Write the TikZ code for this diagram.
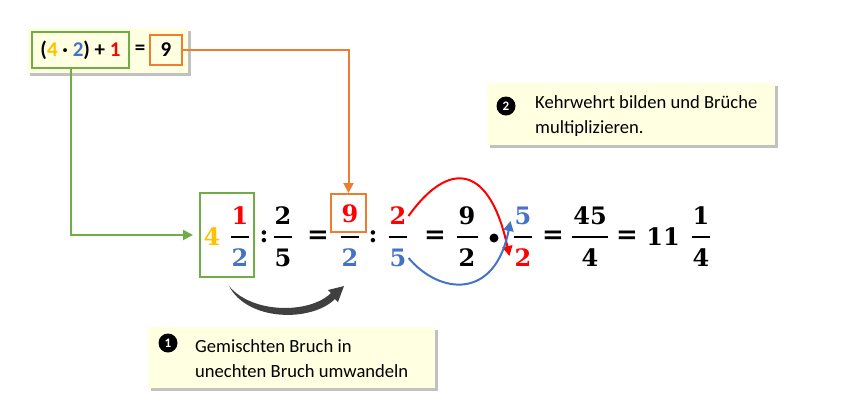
\documentclass[tikz,border=0pt]{standalone}
\usepackage{fontspec}
\usetikzlibrary{shadows,arrows.meta}
\newfontfamily\calfont{Carlito}
\newfontfamily\eqfont{DejaVu Serif}
\definecolor{cy}{HTML}{FFC000}
\definecolor{cb}{HTML}{4472C4}
\definecolor{cr}{HTML}{FF0000}
\definecolor{cg}{HTML}{70AD47}
\definecolor{co}{HTML}{ED7D31}
\definecolor{bgy}{HTML}{FFFFE1}
\definecolor{dg}{HTML}{404040}
\tikzset{
  dig/.style={font=\eqfont\bfseries\fontsize{24}{28}\selectfont, inner sep=0pt},
  opr/.style={font=\eqfont\bfseries\fontsize{26}{30}\selectfont, inner sep=0pt},
  fbar/.style={line width=1.5pt, black},
  notebox/.style={fill=bgy, draw=none, inner sep=0pt,
     drop shadow={shadow xshift=2.5pt, shadow yshift=-3pt, opacity=0.35, fill=black!70}},
  bul/.style={circle, fill=black, inner sep=0pt, minimum size=19pt, text=white,
     font=\calfont\bfseries\fontsize{13}{14}\selectfont},
  notetxt/.style={font=\calfont\fontsize{18.6}{25}\selectfont, align=left, inner sep=0pt, anchor=west},
  conn/.style={line width=2pt, -{Triangle[length=10pt,width=10pt]}},
  topfont/.style={font=\calfont\bfseries\fontsize{21}{24}\selectfont},
}
\begin{document}
\begin{tikzpicture}[x=1pt,y=-1pt]
\useasboundingbox (0,0) rectangle (862,416);
% top box
\node[notebox, minimum width=161pt, minimum height=45pt] (topbox) at (107.5,50.5) {};
\node[draw=cg, line width=2pt, minimum width=97pt, minimum height=36pt, inner sep=0pt, topfont] (grp) at (80.5,50)
  {(\textcolor{cy}{4} · \textcolor{cb}{2}) + \textcolor{cr}{1}};
\node[topfont, inner sep=0pt] (eqt) at (140,50) {=};
\node[draw=co, line width=2pt, minimum width=32pt, minimum height=30pt, inner sep=0pt, topfont] (n9) at (166,50) {9};
% note 2
\node[notebox, minimum width=288pt, minimum height=62pt] (box2) at (631,114) {};
\node[bul] (b2) at (506,106) {2};
\node[notetxt] (t2) at (535,116) {Kehrwehrt bilden und Brüche\\multiplizieren.};
% note 1
\node[notebox, minimum width=287pt, minimum height=61pt] (box1) at (291.5,357.5) {};
\node[bul] (b1) at (168,343) {1};
\node[notetxt] (t1) at (195,359) {Gemischten Bruch in\\unechten Bruch umwandeln};
% boxes in equation
\node[draw=cg, line width=2pt, minimum width=54pt, minimum height=84pt, inner sep=0pt] (gb) at (227,235) {};
\node[draw=co, line width=2pt, minimum width=35pt, minimum height=38pt, inner sep=0pt] (ob) at (348.5,213) {};
% equation
\node[dig, text=cy] (y4) at (212,237) {4};
\node[dig, text=cr] (n1) at (240,216) {1};
\node[dig, text=cb] (d1) at (240,258) {2};
\draw[fbar] (231,237) -- (249,237);
\node[dig] (c1) at (264,237) {:};
\node[dig] (n2) at (283,216) {2};
\node[dig] (d2) at (283,258) {5};
\draw[fbar] (274,237) -- (292,237);
\node[opr] (e1) at (318,237) {=};
\node[dig, text=cr] (n3) at (350,214) {9};
\node[dig, text=cb] (d3) at (350,258) {2};
\draw[fbar] (341,237) -- (359,237);
\node[dig] (c2) at (373,237) {:};
\node[dig, text=cr] (n4) at (398,216) {2};
\node[dig, text=cb] (d4) at (398,258) {5};
\draw[fbar] (389,237) -- (407,237);
\node[opr] (e2) at (435,237) {=};
\node[dig] (n5) at (467,216) {9};
\node[dig] (d5) at (467,258) {2};
\draw[fbar] (457,237) -- (478,237);
\node[circle, fill=black, inner sep=0pt, minimum size=9pt] (dot) at (494,238) {};
\node[dig, text=cb] (n6) at (523,216) {5};
\node[dig, text=cr] (d6) at (523,258) {2};
\draw[fbar] (514,237) -- (532,237);
\node[opr] (e3) at (553,237) {=};
\node[dig] (n7) at (590,216) {45};
\node[dig] (d7) at (590,258) {4};
\draw[fbar] (572,237) -- (608,237);
\node[opr] (e4) at (627,237) {=};
\node[dig] (w11) at (663,237) {11};
\node[dig] (n8) at (701,216) {1};
\node[dig] (d8) at (701,258) {4};
\draw[fbar] (692,237) -- (710,237);
% connectors
\draw[conn, co] (n9.east) -| (ob.north);
\draw[conn, cg, shorten >=6pt] ([xshift=-9.5pt]grp.south) |- (gb.west);
\coordinate (rt) at ([xshift=-5pt, yshift=2pt]d6.west);
\coordinate (bt) at ([xshift=-4pt, yshift=-5pt]n6.west);
\draw[conn, cr] ([xshift=2pt]n4.east) .. controls (450,158) and (490,166) .. (rt);
\draw[conn, cb] ([xshift=2pt]d4.east) .. controls (440,295) and (495,300) .. (bt);
% gray curved arrow
\fill[dg] (229,286) .. controls (248,322) and (312,322) .. (335,299) -- (338,302) -- (344,286)
  -- (328,290) -- (331,293) .. controls (310,314) and (252,314) .. (229,286) -- cycle;
\end{tikzpicture}
\end{document}
